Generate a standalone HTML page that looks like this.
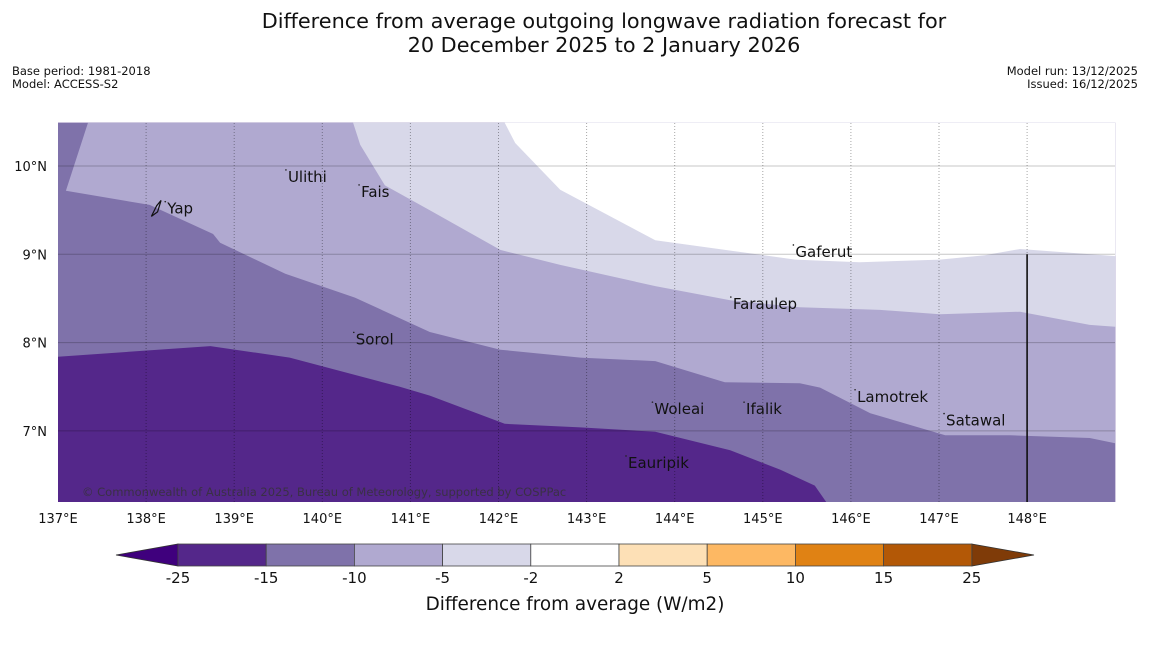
<!DOCTYPE html>
<html><head><meta charset="utf-8"><style>
body{margin:0;background:#fff;width:1150px;height:644px;overflow:hidden;font-family:"Liberation Sans","DejaVu Sans",sans-serif;}
svg text{font-family:"DejaVu Sans","Liberation Sans",sans-serif;}
</style></head><body>
<svg id="chart" width="1150" height="644" xmlns="http://www.w3.org/2000/svg">
<text x="604" y="28" font-size="20.8" text-anchor="middle" fill="#111">Difference from average outgoing longwave radiation forecast for</text>
<text x="604" y="52" font-size="20.8" text-anchor="middle" fill="#111">20 December 2025 to 2 January 2026</text>
<text x="12" y="75" font-size="11.5" fill="#111">Base period: 1981-2018</text>
<text x="12" y="88" font-size="11.5" fill="#111">Model: ACCESS-S2</text>
<text x="1138" y="75" font-size="11.5" text-anchor="end" fill="#111">Model run: 13/12/2025</text>
<text x="1138" y="88" font-size="11.5" text-anchor="end" fill="#111">Issued: 16/12/2025</text>
<g id="map"></g>
<g id="cbar"></g>
<text x="575" y="610" font-size="18.4" text-anchor="middle" fill="#111">Difference from average (W/m2)</text>
</svg>
<script>
const lonTicks=[137,138,139,140,141,142,143,144,145,146,147,148];
const latTicks=[7,8,9,10];
const levelDark=[[137.0,7.84],[138.73,7.96],[139.63,7.83],[140.88,7.50],[141.22,7.40],[142.07,7.08],[142.93,7.04],[143.78,6.99],[144.63,6.78],[145.20,6.56],[145.59,6.38],[145.72,6.195]];
const levelMid=[[137.34,10.49],[137.09,9.72],[138.04,9.56],[138.76,9.23],[138.84,9.13],[139.58,8.78],[140.37,8.51],[141.22,8.12],[142.02,7.92],[142.93,7.83],[143.78,7.79],[144.57,7.55],[145.42,7.54],[145.65,7.49],[146.22,7.20],[147.07,6.95],[147.81,6.95],[148.71,6.92],[149.0,6.86]];
const levelLight=[[140.35,10.49],[140.43,10.24],[140.71,9.78],[141.22,9.50],[142.02,9.05],[142.70,8.88],[143.78,8.64],[144.63,8.48],[145.42,8.40],[146.33,8.37],[147.01,8.32],[147.92,8.35],[148.71,8.20],[149.0,8.18]];
const levelVLight=[[142.07,10.49],[142.19,10.26],[142.70,9.73],[143.78,9.16],[145.37,8.94],[146.10,8.91],[147.01,8.94],[147.52,8.99],[147.92,9.06],[149.0,8.98]];
const places=["Yap","Ulithi","Fais","Gaferut","Faraulep","Sorol","Woleai","Ifalik","Lamotrek","Satawal","Eauripik"];
const placeLon=[138.24,139.61,140.44,145.37,144.66,140.38,143.77,144.81,146.07,147.08,143.47];
const placeLat=[9.46,9.82,9.65,8.97,8.38,7.98,7.19,7.19,7.33,7.06,6.58];
const cbLevels=["-25","-15","-10","-5","-2","2","5","10","15","25"];
const cbColors=["#54278a","#7f72aa","#b0a9d0","#d8d8e9","#ffffff","#fde0b6","#fdb863","#e08214","#b35806"];
const NS="http://www.w3.org/2000/svg";
const X=lon=>58+(lon-137)*88.1;
const Y=lat=>166+(10-lat)*88.3;
const LAT0=6.195,LAT1=10.49,LON1=149.0;
function mk(t,a,p){const e=document.createElementNS(NS,t);for(const k in a)e.setAttribute(k,a[k]);p.appendChild(e);return e;}
const map=document.getElementById('map');
function poly(pts,color,name){
  const e=mk('polygon',{points:pts.map(p=>X(p[0]).toFixed(1)+','+Y(p[1]).toFixed(1)).join(' '),fill:color},map);
  
  
}
poly([[137,LAT0],[LON1,LAT0],[LON1,LAT1],[137,LAT1]],cbColors[0],'region-minus25-minus15');
poly(levelDark.concat([[LON1,LAT0],[LON1,LAT1],[137,LAT1]]),cbColors[1],'region-minus15-minus10');
poly(levelMid.concat([[LON1,LAT1]]),cbColors[2],'region-minus10-minus5');
poly(levelLight.concat([[LON1,LAT1]]),cbColors[3],'region-minus5-minus2');
poly(levelVLight.concat([[LON1,LAT1]]),cbColors[4],'region-minus2-plus2');
latTicks.forEach(l=>{
  const g=mk('line',{x1:58,x2:1115,y1:Y(l),y2:Y(l),stroke:'#000','stroke-opacity':0.22,'stroke-width':1},map);
  
  
  const t=mk('text',{x:47,y:Y(l)+5,'font-size':13,'text-anchor':'end',fill:'#111'},map);t.textContent=l+'°N';
  
  
});
lonTicks.forEach(l=>{
  if(l>137){const g=mk('line',{x1:X(l),x2:X(l),y1:123,y2:502,stroke:'#000','stroke-opacity':0.35,'stroke-width':1,'stroke-dasharray':'1,2'},map);
  
  }
  const t=mk('text',{x:X(l),y:523,'font-size':13,'text-anchor':'middle',fill:'#111'},map);t.textContent=l+'°E';
  
  
});
const vl=mk('line',{x1:X(148),x2:X(148),y1:Y(9),y2:502,stroke:'#111','stroke-width':1.6},map);


places.forEach((p,i)=>{
  const d=mk('circle',{cx:X(placeLon[i])-2,cy:Y(placeLat[i])-12,r:0.8,fill:'#222'},map);
  
  
  const t=mk('text',{x:X(placeLon[i]),y:Y(placeLat[i]),'font-size':15,fill:'#111'},map);t.textContent=p;
  
  
});
const yapShape=mk('path',{d:`M${X(138.06)},${Y(9.43)} L${X(138.12)},${Y(9.55)} L${X(138.17)},${Y(9.61)} L${X(138.13)},${Y(9.48)} Z`,fill:'none',stroke:'#111','stroke-width':1.2},map);


const cr=mk('text',{x:82,y:496,'font-size':11.5,fill:'#333','fill-opacity':0.8},map);
cr.textContent='© Commonwealth of Australia 2025, Bureau of Meteorology, supported by COSPPac';


const cb=document.getElementById('cbar');
const cx0=178,cw=88.2,cy=544,ch=22;
const lt=mk('polygon',{points:`116,${cy+ch/2} ${cx0},${cy} ${cx0},${cy+ch}`,fill:'#3f007d',stroke:'#333','stroke-width':0.8},cb);


const rx=cx0+cw*cbColors.length;
const rt=mk('polygon',{points:`${rx},${cy} 1034,${cy+ch/2} ${rx},${cy+ch}`,fill:'#7f3b08',stroke:'#333','stroke-width':0.8},cb);


cbColors.forEach((c,i)=>{
  const r=mk('rect',{x:cx0+i*cw,y:cy,width:cw,height:ch,fill:c,stroke:'#444','stroke-width':0.8},cb);
  
  
});
cbLevels.forEach((l,i)=>{
  const t=mk('text',{x:cx0+i*cw,y:583,'font-size':15,'text-anchor':'middle',fill:'#111'},cb);t.textContent=l;
  
  
});
</script>
</body></html>
